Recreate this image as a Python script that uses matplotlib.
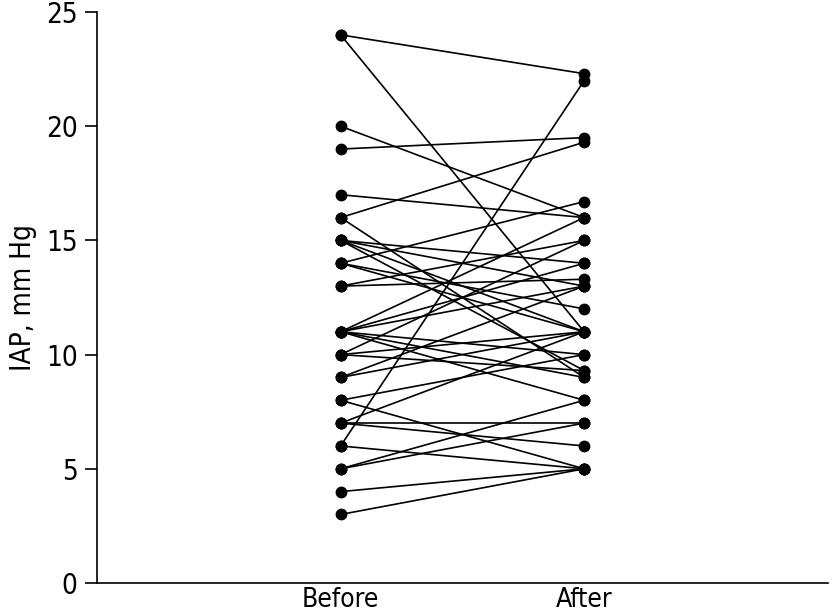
import matplotlib.pyplot as plt

plt.rcParams['font.family'] = ['DejaVu Sans']
plt.rcParams['font.stretch'] = 'condensed'

# paired IAP values (mm Hg), one entry per patient
before = [24, 24, 20, 19, 17, 16, 16, 15, 15, 15, 15, 14, 14, 14, 13, 13,
          11, 11, 11, 11, 11, 11, 10, 10, 10, 9, 9, 8, 8, 7, 7, 7, 6, 6,
          5, 5, 4, 3]
after = [22.3, 11, 16, 19.5, 16, 19.3, 9, 14, 13, 11, 9.3, 16.7, 12, 11, 15, 13.3,
         16, 14, 13, 10, 9, 8, 15, 11, 9.3, 13, 11, 10, 5, 11, 7, 6, 22, 5,
         8, 7, 5, 5]
groups = ["Before", "After"]
yticks = [0, 5, 10, 15, 20, 25]

fig = plt.figure(figsize=(8.32, 6.16), dpi=100)
ax = fig.add_axes([0.1166, 0.0536, 0.8784, 0.9269])

for b, a in zip(before, after):
    ax.plot([1, 2], [b, a], color='black', linewidth=1.2,
            marker='o', markersize=7.5, markerfacecolor='black',
            markeredgecolor='black')

ax.set_xlim(0, 3)
ax.set_ylim(0, 25)
ax.set_xticks([1, 2])
ax.set_xticklabels(groups)
ax.set_yticks(yticks)
ax.set_ylabel("IAP, mm Hg", fontsize=20, labelpad=6)

ax.spines['top'].set_visible(False)
ax.spines['right'].set_visible(False)
ax.spines['left'].set_linewidth(1.2)
ax.spines['bottom'].set_linewidth(1.2)
ax.tick_params(axis='y', direction='out', length=9, width=1.2, pad=5, labelsize=20)
ax.tick_params(axis='x', length=0, pad=3, labelsize=19)

plt.savefig("out.png", dpi=100)
